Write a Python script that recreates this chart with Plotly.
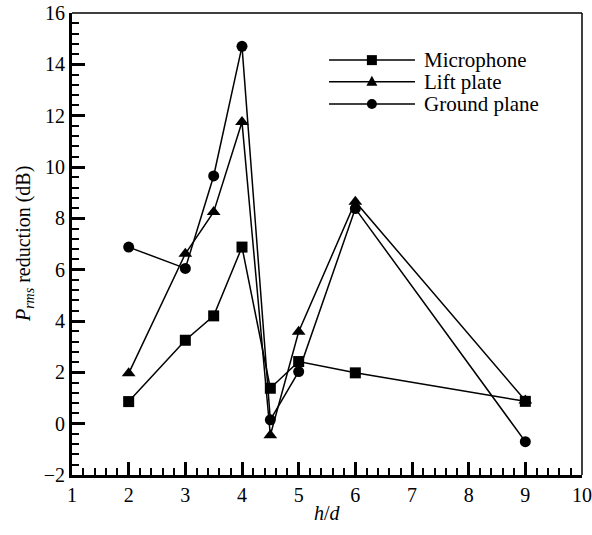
import plotly.graph_objects as go

# Spacing ratio h/d
hd = [2, 3, 3.5, 4, 4.5, 5, 6, 9]

# P_rms reduction (dB) for each measurement location
microphone = [0.86, 3.25, 4.2, 6.88, 1.38, 2.42, 1.98, 0.87]
lift_plate = [1.96, 6.62, 8.25, 11.75, -0.45, 3.58, 8.65, 0.9]
ground_plane = [6.88, 6.05, 9.65, 14.7, 0.15, 2.03, 8.38, -0.7]

series_names = ["Microphone", "Lift plate", "Ground plane"]
series_values = [microphone, lift_plate, ground_plane]
series_symbols = ["square", "triangle-up", "circle"]
series_sizes = [11, 12, 11]

FONT = "'Times New Roman', 'Liberation Serif', Times, serif"

fig = go.Figure()

# draw ground plane first so squares sit on top where points coincide
for i in [2, 1, 0]:
    fig.add_trace(go.Scatter(
        x=hd, y=series_values[i], name=series_names[i], mode="lines+markers",
        line=dict(color="black", width=1.5),
        marker=dict(symbol=series_symbols[i], size=series_sizes[i], color="black"),
        showlegend=False,
    ))

# Hand-built legend: long line with the marker in the middle, then the label
leg_x0, leg_x1, leg_xm, leg_xt = 0.504, 0.6725, 0.588, 0.686
leg_rows = [0.898, 0.851, 0.803]
shapes = []
annotations = []
for name, sym, y in zip(series_names, series_symbols, leg_rows):
    shapes.append(dict(type="line", xref="paper", yref="paper",
                       x0=leg_x0, x1=leg_x1, y0=y, y1=y,
                       line=dict(color="black", width=1.5)))
    if sym == "square":
        shapes.append(dict(type="rect", xref="paper", yref="paper",
                           xsizemode="pixel", ysizemode="pixel",
                           xanchor=leg_xm, yanchor=y, x0=-5, x1=5, y0=-5, y1=5,
                           fillcolor="black", line=dict(width=0)))
    elif sym == "circle":
        shapes.append(dict(type="circle", xref="paper", yref="paper",
                           xsizemode="pixel", ysizemode="pixel",
                           xanchor=leg_xm, yanchor=y, x0=-5, x1=5, y0=-5, y1=5,
                           fillcolor="black", line=dict(width=0)))
    else:
        shapes.append(dict(type="path", xref="paper", yref="paper",
                           xsizemode="pixel", ysizemode="pixel",
                           xanchor=leg_xm, yanchor=y,
                           path="M-5.5,-4 L5.5,-4 L0,6 Z",
                           fillcolor="black", line=dict(width=0)))
    annotations.append(dict(x=leg_xt, y=y, xref="paper", yref="paper",
                            text=name, showarrow=False, xanchor="left",
                            yanchor="middle",
                            font=dict(family=FONT, size=21, color="black")))

# thin top and right frame lines
shapes.append(dict(type="line", xref="paper", yref="paper", x0=0, x1=1, y0=1, y1=1,
                   line=dict(color="black", width=1.5)))
shapes.append(dict(type="line", xref="paper", yref="paper", x0=1, x1=1, y0=0, y1=1,
                   line=dict(color="black", width=1.5)))

# axis titles
annotations.append(dict(x=-0.094, y=0.5, xref="paper", yref="paper", textangle=-90,
                        text="<i>P</i><sub><i>rms</i></sub> reduction (dB)",
                        showarrow=False, xanchor="center", yanchor="middle",
                        font=dict(family=FONT, size=20, color="black")))
annotations.append(dict(x=0.5, y=-0.082, xref="paper", yref="paper",
                        text="<i>h</i>/<i>d</i>", showarrow=False,
                        xanchor="center", yanchor="middle",
                        font=dict(family=FONT, size=20, color="black")))

axis_common = dict(
    showgrid=False, zeroline=False, showline=True, linecolor="black", linewidth=3,
    ticks="inside", ticklen=13, tickwidth=3, tickcolor="black",
    tickfont=dict(family=FONT, size=20, color="black"),
    automargin=False,
)

fig.update_xaxes(range=[1, 10], dtick=1, tick0=1,
                 minor=dict(dtick=0.2, ticks="inside", ticklen=7, tickwidth=1.5,
                            tickcolor="black", showgrid=False),
                 **axis_common)
fig.update_yaxes(range=[-2, 16], dtick=2, tick0=0,
                 minor=dict(dtick=0.4, ticks="inside", ticklen=7, tickwidth=1.5,
                            tickcolor="black", showgrid=False),
                 **axis_common)

fig.update_layout(
    width=592, height=535,
    margin=dict(l=72, r=10, t=13, b=60),
    plot_bgcolor="white", paper_bgcolor="white",
    shapes=shapes, annotations=annotations,
    showlegend=False,
)

fig.write_html("out.html")
